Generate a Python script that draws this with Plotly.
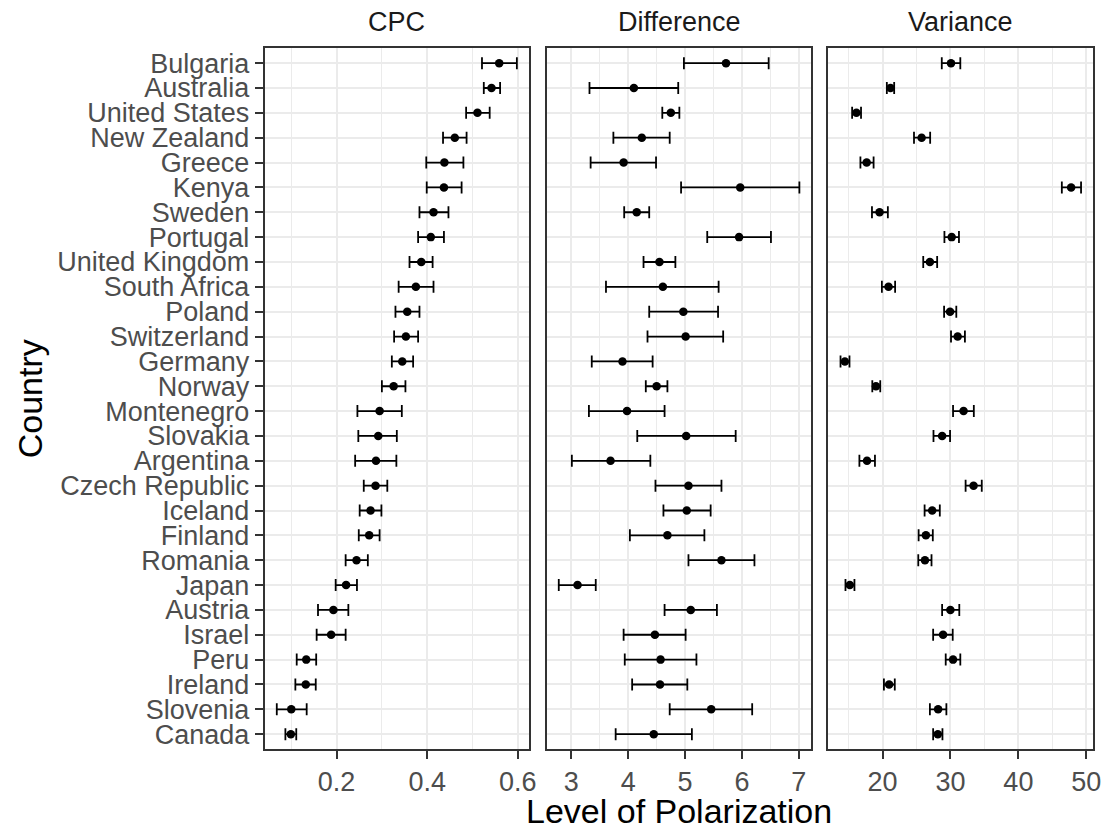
import plotly.graph_objects as go

countries = ["Bulgaria", "Australia", "United States", "New Zealand", "Greece", "Kenya",
             "Sweden", "Portugal", "United Kingdom", "South Africa", "Poland", "Switzerland",
             "Germany", "Norway", "Montenegro", "Slovakia", "Argentina", "Czech Republic",
             "Iceland", "Finland", "Romania", "Japan", "Austria", "Israel", "Peru",
             "Ireland", "Slovenia", "Canada"]

cpc_est = [0.559, 0.542, 0.511, 0.461, 0.438, 0.437, 0.414, 0.408, 0.387, 0.375, 0.356, 0.353,
           0.345, 0.326, 0.295, 0.292, 0.287, 0.286, 0.275, 0.272, 0.244, 0.221, 0.193, 0.188,
           0.133, 0.132, 0.100, 0.099]
cpc_lo = [0.521, 0.525, 0.486, 0.435, 0.398, 0.399, 0.383, 0.380, 0.361, 0.337, 0.330, 0.327,
          0.322, 0.300, 0.246, 0.248, 0.241, 0.260, 0.251, 0.249, 0.220, 0.198, 0.159, 0.156,
          0.112, 0.109, 0.068, 0.087]
cpc_hi = [0.598, 0.561, 0.538, 0.487, 0.480, 0.476, 0.447, 0.437, 0.412, 0.414, 0.383, 0.380,
          0.369, 0.352, 0.344, 0.333, 0.332, 0.312, 0.299, 0.295, 0.269, 0.245, 0.226, 0.220,
          0.155, 0.154, 0.134, 0.111]

diff_est = [5.72, 4.10, 4.75, 4.24, 3.92, 5.97, 4.15, 5.95, 4.55, 4.61, 4.97, 5.01, 3.90, 4.50,
            3.98, 5.02, 3.69, 5.06, 5.03, 4.69, 5.64, 3.11, 5.10, 4.47, 4.57, 4.56, 5.46, 4.45]
diff_lo = [4.98, 3.32, 4.60, 3.74, 3.34, 4.93, 3.93, 5.39, 4.27, 3.61, 4.37, 4.34, 3.36, 4.31,
           3.31, 4.16, 3.01, 4.48, 4.62, 4.03, 5.06, 2.78, 4.64, 3.92, 3.94, 4.07, 4.73, 3.78]
diff_hi = [6.47, 4.88, 4.90, 4.73, 4.49, 7.01, 4.37, 6.51, 4.83, 5.59, 5.58, 5.67, 4.43, 4.69,
           4.64, 5.89, 4.39, 5.64, 5.45, 5.34, 6.22, 3.43, 5.56, 5.01, 5.20, 5.04, 6.18, 5.12]

var_est = [30.08, 21.17, 16.15, 25.75, 17.66, 47.77, 19.56, 30.18, 26.97, 20.88, 29.94, 31.06,
           14.45, 19.03, 31.93, 28.77, 17.71, 33.40, 27.31, 26.38, 26.24, 15.18, 29.99, 28.91,
           30.38, 20.97, 28.18, 28.14]
var_lo = [28.72, 20.63, 15.52, 24.63, 16.74, 46.40, 18.44, 29.11, 25.99, 19.90, 29.06, 30.08,
          13.81, 18.49, 30.38, 27.50, 16.59, 32.23, 26.19, 25.31, 25.26, 14.54, 28.77, 27.45,
          29.30, 20.20, 26.97, 27.45]
var_hi = [31.45, 21.71, 16.83, 27.01, 18.68, 49.23, 20.78, 31.25, 28.04, 21.85, 30.86, 32.13,
          15.13, 19.66, 33.44, 29.94, 18.88, 34.61, 28.43, 27.40, 27.21, 15.86, 31.30, 30.33,
          31.45, 21.80, 29.40, 28.82]

panel_titles = ["CPC", "Difference", "Variance"]
panel_ticks = [[0.2, 0.4, 0.6], [3, 4, 5, 6, 7], [20, 30, 40, 50]]
panel_minor = [[0.1, 0.3, 0.5], [3.5, 4.5, 5.5, 6.5], [15, 25, 35, 45]]
panel_ticktext = [["0.2", "0.4", "0.6"], ["3", "4", "5", "6", "7"], ["20", "30", "40", "50"]]

panels = [(cpc_est, cpc_lo, cpc_hi), (diff_est, diff_lo, diff_hi), (var_est, var_lo, var_hi)]

W, H = 1112, 830
FONT = "Liberation Sans, Arial, Helvetica, sans-serif"
BORDER = "#333333"
GRID = "#EBEBEB"
TICK_SIZE = 27

x_domains = [(266.7 / W, 532.7 / W), (550.7 / W, 817.3 / W), (834.5 / W, 1101.0 / W)]
y_domain = (1 - 750.0 / H, 1 - 48.3 / H)

n = len(countries)
y_range = [n - 1 + 0.6, -0.6]

fig = go.Figure()
layout = dict(
    width=W, height=H,
    margin=dict(l=0, r=0, t=0, b=0),
    paper_bgcolor="white", plot_bgcolor="white",
    showlegend=False,
    font=dict(family=FONT),
    annotations=[],
)

for i, (est, lo, hi) in enumerate(panels):
    k = "" if i == 0 else str(i + 1)
    plus = [h - e for h, e in zip(hi, est)]
    minus = [e - l for e, l in zip(est, lo)]
    fig.add_trace(go.Scatter(
        x=est, y=countries, mode="markers",
        xaxis="x" + k, yaxis="y" + k,
        marker=dict(color="black", size=8.5),
        error_x=dict(type="data", symmetric=False, array=plus, arrayminus=minus,
                     color="black", thickness=1.8, width=6),
        hoverinfo="x+y",
    ))

    # ggplot-style 5% expansion of the data extent
    lo_all, hi_all = min(lo), max(hi)
    pad = 0.05 * (hi_all - lo_all)
    layout["xaxis" + k] = dict(
        domain=list(x_domains[i]), anchor="y" + k,
        range=[lo_all - pad, hi_all + pad],
        tickmode="array", tickvals=panel_ticks[i], ticktext=panel_ticktext[i],
        ticks="outside", ticklen=8, tickwidth=1.8, tickcolor=BORDER,
        tickfont=dict(size=TICK_SIZE, color="#4D4D4D", family=FONT),
        showgrid=True, gridcolor=GRID, gridwidth=2,
        minor=dict(tickmode="array", tickvals=panel_minor[i], showgrid=True,
                   gridcolor=GRID, gridwidth=1, ticks=""),
        showline=True, linecolor=BORDER, linewidth=2, mirror=True,
        zeroline=False,
    )
    layout["yaxis" + k] = dict(
        domain=list(y_domain), anchor="x" + k,
        type="category", categoryorder="array", categoryarray=countries,
        tickmode="array", tickvals=countries, ticktext=countries,
        range=y_range,
        ticks="outside" if i == 0 else "", ticklen=8, tickwidth=1.8, tickcolor=BORDER,
        showticklabels=(i == 0),
        tickfont=dict(size=TICK_SIZE, color="#4D4D4D", family=FONT),
        showgrid=True, gridcolor=GRID, gridwidth=2,
        showline=True, linecolor=BORDER, linewidth=2, mirror=True,
        zeroline=False,
    )
    if i > 0:
        layout["yaxis" + k]["matches"] = "y"

    layout["annotations"].append(dict(
        text=panel_titles[i], xref="paper", yref="paper",
        x=(x_domains[i][0] + x_domains[i][1]) / 2, y=1 - 21.7 / H,
        xanchor="center", yanchor="middle", showarrow=False,
        font=dict(size=TICK_SIZE, color="#1A1A1A", family=FONT),
    ))

layout["annotations"].append(dict(
    text="Level of Polarization", xref="paper", yref="paper",
    x=(x_domains[0][0] + x_domains[2][1]) / 2, y=1 - 812.0 / H,
    xanchor="center", yanchor="middle", showarrow=False,
    font=dict(size=34, color="black", family=FONT),
))
layout["annotations"].append(dict(
    text="Country", xref="paper", yref="paper",
    x=30.0 / W, y=1 - 399.0 / H, textangle=-90,
    xanchor="center", yanchor="middle", showarrow=False,
    font=dict(size=34, color="black", family=FONT),
))

fig.update_layout(**layout)
fig.write_html("out.html")
